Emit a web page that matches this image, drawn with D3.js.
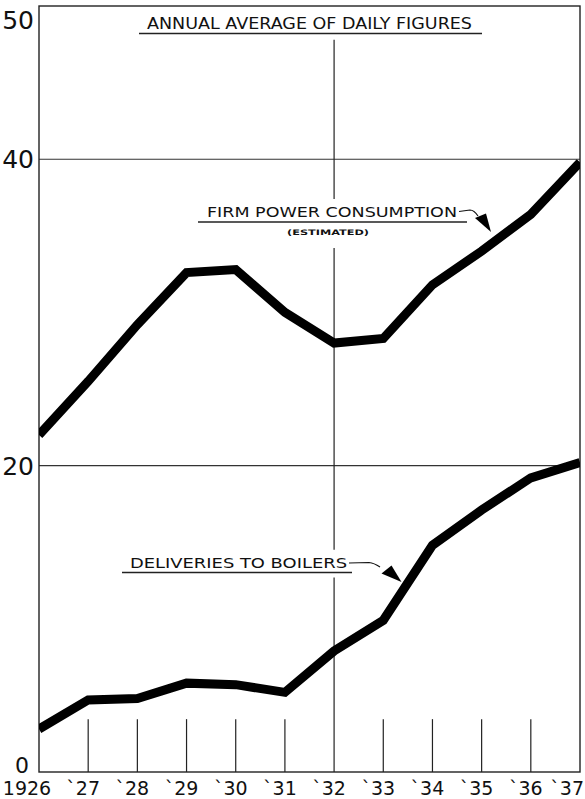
<!DOCTYPE html>
<html>
<head>
<meta charset="utf-8">
<script src="https://cdn.jsdelivr.net/npm/d3@7"></script>
<style>
  html, body { margin: 0; padding: 0; background: #fff; }
  svg { display: block; }
  text { font-family: "DejaVu Sans", sans-serif; fill: #111; }
</style>
</head>
<body>
<script>
// Years on the horizontal axis and their printed labels
const years = [1926, 1927, 1928, 1929, 1930, 1931, 1932, 1933, 1934, 1935, 1936, 1937];
const yearLabels = ["1926", "`27", "`28", "`29", "`30", "`31", "`32", "`33", "`34", "`35", "`36", "`37"];

// Annual average of daily figures
const firmPower = [22.0, 25.5, 29.2, 32.6, 32.8, 30.0, 28.0, 28.3, 31.8, 34.0, 36.4, 39.8];
const boilerDeliveries = [2.8, 4.7, 4.8, 5.8, 5.7, 5.2, 7.9, 9.9, 14.8, 17.1, 19.2, 20.2];

// Value axis
const yTickValues = [0, 20, 40, 50];
const gridValues = [20, 40];

const W = 585, H = 799;
const plotLeft = 39, plotRight = 580, plotTop = 6, plotBottom = 772;

const svg = d3.select("body").append("svg").attr("width", W).attr("height", H);

const x = d3.scaleLinear().domain([years[0], years[years.length - 1]]).range([plotLeft, plotRight]);
const y = d3.scaleLinear().domain([0, 50]).range([plotBottom, plotTop]);

svg.append("defs").append("clipPath").attr("id", "plot")
  .append("rect").attr("x", plotLeft).attr("y", plotTop)
  .attr("width", plotRight - plotLeft).attr("height", plotBottom - plotTop);

// Horizontal grid lines
svg.append("g").selectAll("line").data(gridValues).join("line")
  .attr("x1", plotLeft).attr("x2", plotRight)
  .attr("y1", d => y(d)).attr("y2", d => y(d))
  .attr("stroke", "#333").attr("stroke-width", 1.1);

// Short year ticks rising from the base
const tickYears = years.filter(d => d !== 1926 && d !== 1932 && d !== 1937);
svg.append("g").selectAll("line").data(tickYears).join("line")
  .attr("x1", d => x(d)).attr("x2", d => x(d))
  .attr("y1", y(3.45)).attr("y2", y(0))
  .attr("stroke", "#222").attr("stroke-width", 1.2);

// Full-height divider at 1932, broken around the captions
const dividerSpans = [[47.8, 37.4], [34.2, 14.5], [12.7, 0]];
svg.append("g").selectAll("line").data(dividerSpans).join("line")
  .attr("x1", x(1932)).attr("x2", x(1932))
  .attr("y1", d => y(d[0])).attr("y2", d => y(d[1]))
  .attr("stroke", "#222").attr("stroke-width", 1.2);

// Frame
svg.append("rect")
  .attr("x", plotLeft).attr("y", plotTop)
  .attr("width", plotRight - plotLeft).attr("height", plotBottom - plotTop)
  .attr("fill", "none").attr("stroke", "#222").attr("stroke-width", 1.4);

// Y axis labels
svg.append("g").selectAll("text").data(yTickValues).join("text")
  .attr("x", d => d === 0 ? 29 : 34)
  .attr("y", d => d === 50 ? 29 : d === 0 ? 773 : y(d) + 9)
  .attr("text-anchor", "end")
  .attr("font-size", d => d === 0 ? 22 : 25)
  .text(d => d);

// X axis labels
const lastIndex = years.length - 1;
svg.append("g").selectAll("text").data(years).join("text")
  .attr("x", (d, i) => i === 0 ? x(d) - 12 : i === lastIndex ? W - 1 : x(d) - 5)
  .attr("y", 795)
  .attr("text-anchor", (d, i) => i === lastIndex ? "end" : "middle")
  .attr("font-size", 19)
  .text((d, i) => yearLabels[i]);

// Series lines
const line = d3.line().x((d, i) => x(years[i])).y(d => y(d));
const series = svg.append("g").attr("clip-path", "url(#plot)");
[firmPower, boilerDeliveries].forEach(values => {
  series.append("path").datum(values)
    .attr("d", line)
    .attr("fill", "none").attr("stroke", "#000")
    .attr("stroke-width", 9).attr("stroke-linejoin", "miter").attr("stroke-linecap", "butt");
});

// Captions with underlines
function caption(text, x0, x1, baseline, size, ux0, ux1, uy) {
  svg.append("text").attr("x", x0).attr("y", baseline)
    .attr("font-size", size)
    .attr("textLength", x1 - x0).attr("lengthAdjust", "spacingAndGlyphs")
    .text(text);
  svg.append("line").attr("x1", ux0).attr("x2", ux1).attr("y1", uy).attr("y2", uy)
    .attr("stroke", "#222").attr("stroke-width", 1.3);
}
caption("ANNUAL AVERAGE OF DAILY FIGURES", 147, 472, 29, 15, 139, 482, 33.5);
caption("FIRM POWER CONSUMPTION", 207, 457, 217, 14.5, 198, 467, 222);
caption("DELIVERIES TO BOILERS", 130, 347, 568, 14, 122, 352, 572.5);

svg.append("text").attr("x", 287).attr("y", 235)
  .attr("font-size", 7.5).attr("font-weight", "bold")
  .attr("textLength", 82).attr("lengthAdjust", "spacingAndGlyphs")
  .text("(ESTIMATED)");

// Leader arrows pointing to each line
function leader(path, head) {
  svg.append("path").attr("d", path).attr("fill", "none").attr("stroke", "#111").attr("stroke-width", 1.2);
  svg.append("path").attr("d", "M" + head.map(p => p.join(",")).join("L") + "Z").attr("fill", "#000");
}
leader("M459,211.5 L470,210 Q474,210 478,216", [[475, 218], [486, 213.5], [491, 232]]);
leader("M349,563 L369,562.5 Q374,563 380,567", [[381.5, 573.5], [391.5, 565.5], [401.5, 582]]);
</script>
</body>
</html>
